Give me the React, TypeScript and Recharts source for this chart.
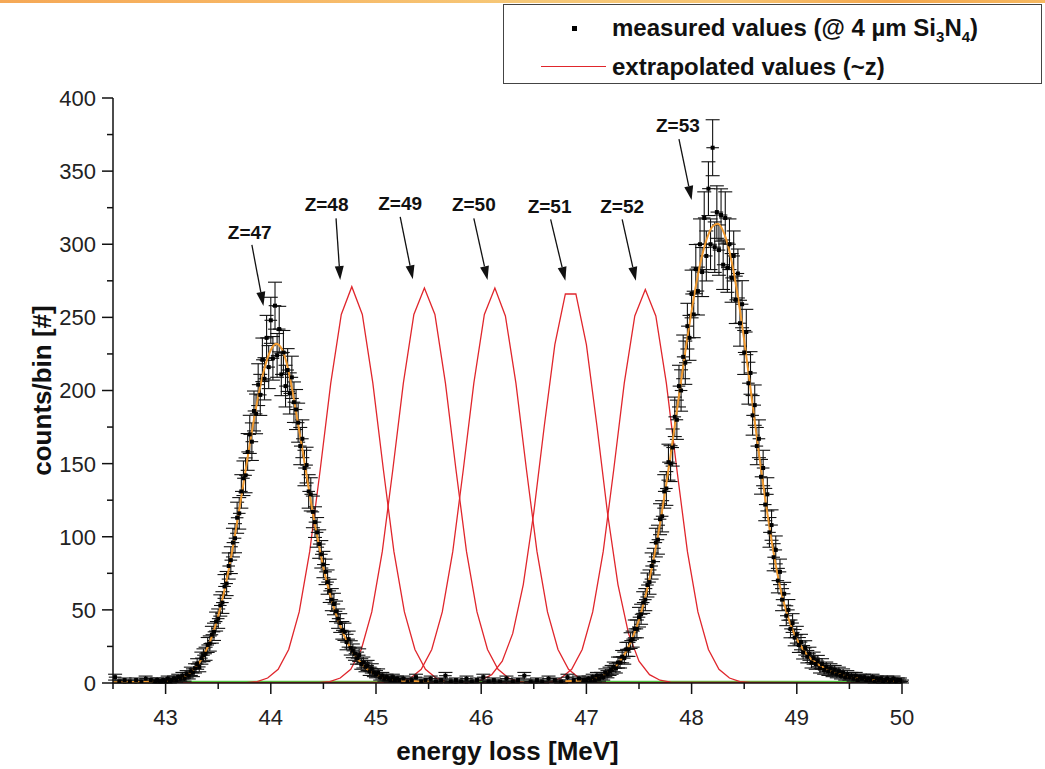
import React from "react";
import { ComposedChart, Line, Scatter, ErrorBar, XAxis, YAxis, ReferenceLine, ReferenceDot } from "recharts";

const FONT = '"Liberation Sans", Arial, Helvetica, sans-serif';

// measured spectrum (0.02 MeV bins)
const binStep = 0.02;
const binHalfWidth = 0.06;
const peak47Start = 42.9;
const peak47Counts = [
  1, 2, 1, 1, 2, 1, 3, 1, 2, 3,
  2, 4, 3, 5, 3, 6, 5, 8, 7, 10,
  13, 11, 17, 19, 20, 26, 27, 33, 35, 42,
  44, 53, 55, 66, 68, 80, 84, 96, 99, 113,
  116, 131, 140, 142, 158, 170, 165, 186, 184, 204,
  197, 221, 208, 236, 216, 248, 222, 258, 224, 242,
  211, 226, 203, 214, 198, 209, 192, 187, 178, 162,
  167, 147, 149, 131, 129, 117, 110, 103, 95, 88,
  81, 76, 69, 63, 57, 54, 49, 44, 41, 36,
  35, 28, 30, 24, 22, 20, 17, 19, 13, 14,
  11, 12, 8, 10, 7, 6, 7, 4, 5, 3,
  4, 3, 2, 4, 2, 3,
];
const peak53Start = 47.0;
const peak53Counts = [
  2, 3, 2, 4, 2, 5, 3, 5, 4, 7,
  6, 8, 9, 11, 10, 14, 14, 18, 17, 23,
  23, 29, 30, 37, 37, 45, 47, 55, 57, 67,
  69, 80, 83, 96, 98, 112, 114, 131, 133, 151,
  150, 161, 182, 180, 203, 200, 223, 219, 244, 236,
  266, 252, 283, 268, 300, 281, 318, 292, 338, 300,
  366, 298, 322, 296, 320, 286, 318, 284, 300, 277,
  292, 262, 280, 246, 259, 226, 240, 205, 212, 183,
  190, 162, 167, 141, 147, 122, 129, 103, 108, 86,
  91, 70, 76, 57, 61, 46, 50, 37, 41, 31,
  33, 26, 28, 21, 24, 18, 20, 14, 17, 13,
  15, 10, 13, 9, 11, 8, 10, 7, 9, 6,
  8, 5, 7, 4, 6, 4, 5, 3, 5, 2,
  4, 3, 4, 2, 3, 2, 4, 1, 3, 2,
  3, 1, 2, 3, 1, 2, 3, 1, 2, 2,
  1,
];
// sparse low-count bins outside the peaks
const lowX = [
  42.52, 42.56, 42.61, 42.66, 42.72, 42.77, 42.81, 42.86,
  45.22, 45.26, 45.3, 45.34, 45.38, 45.43, 45.47, 45.52, 45.57, 45.62, 45.66, 45.71,
  45.76, 45.81, 45.86, 45.91, 45.96, 46.02, 46.07, 46.12, 46.18, 46.24, 46.3, 46.35,
  46.41, 46.47, 46.53, 46.58, 46.64, 46.7, 46.76, 46.82, 46.88, 46.93, 46.97,
];
const lowCounts = [
  4, 1, 2, 1, 2, 1, 3, 2,
  2, 3, 1, 2, 4, 1, 2, 3, 1, 2, 5, 1,
  2, 1, 3, 1, 2, 4, 1, 2, 1, 3, 1, 2,
  5, 1, 2, 1, 3, 2, 1, 4, 2, 3, 2,
];

// gaussian fits (orange)
const fitStep = 0.05;
const fit47Start = 42.5;
const fit47 = [
  0.5, 0.5, 0.5, 0.6, 0.6, 0.7, 0.8, 0.9, 1.0, 1.1,
  1.2, 1.6, 2.4, 3.6, 5.4, 8.1, 12, 17.3, 24.5, 33.9,
  45.8, 60.4, 77.6, 97.2, 118.6, 141, 163.2, 184.4, 203, 217.8,
  227.7, 232, 229, 219, 202, 181, 160, 137.5, 116, 97,
  79, 64, 51.5, 41, 32, 25, 19, 14.3, 10.5, 7.8,
  5.7, 4.2, 3.1, 2.4, 1.9, 1.6, 1.4, 1.2, 1.1, 1.0, 1.0,
];
const fit53Start = 46.8;
const fit53 = [
  1.2, 1.3, 1.5, 1.7,
  2.0, 2.6, 3.5, 4.9, 6.9, 9.6, 13.3, 18.2, 24.7, 33,
  43.3, 56, 71.3, 89, 109, 131.5, 155.5, 181, 206.5, 231.5,
  254.5, 275.3, 292.3, 304.8, 312.2, 314, 309, 298, 281, 259.5,
  234.4, 207, 179, 151.6, 125.7, 101.8, 80.8, 62.7, 49, 38,
  30, 24, 19, 15.5, 12.8, 10.6, 8.8, 7.3, 6.1, 5.1,
  4.3, 3.6, 3.1, 2.7, 2.3, 2.0, 1.8, 1.6, 1.5, 1.3,
  1.2,
];

// extrapolated curves (~z), Z=48..52, sampled every 0.1 MeV
const redStep = 0.1;
const redStarts = [43.77, 44.46, 45.13, 45.9, 46.56];
const redValues = [
  [0.3, 1.0, 3.4, 9.4, 22.9, 48.6, 90, 146, 205, 252, 271, 252, 205, 146, 90, 48.6, 22.9, 9.4, 3.4, 1.0, 0.3],
  [0.3, 1.0, 3.4, 9.4, 22.9, 48.6, 90, 146, 205, 252, 270, 252, 205, 146, 90, 48.6, 22.9, 9.4, 3.4, 1.0, 0.3],
  [0.3, 1.0, 3.4, 9.4, 22.9, 48.6, 90, 146, 205, 252, 270, 251, 205, 146, 90, 48.6, 22.9, 9.4, 3.4, 1.0, 0.3],
  [0.55, 1.9, 5.7, 14.9, 33.9, 67.3, 116.6, 175.9, 231.4, 266, 266, 231.4, 175.9, 116.6, 67.3, 33.9, 14.9, 5.7, 1.9, 0.55],
  [0.3, 1.0, 3.4, 9.4, 22.9, 48.6, 90, 146, 205, 251, 269, 251, 205, 146, 90, 48.6, 22.9, 9.4, 3.4, 1.0, 0.3],
];
const xRange = [42.5, 50];

// annotations
const annLabels = ["Z=47", "Z=48", "Z=49", "Z=50", "Z=51", "Z=52", "Z=53"];
const annTextX = [43.8, 44.53, 45.23, 45.93, 46.65, 47.34, 47.87];
const annTextY = [308, 327, 328, 327, 326, 326, 381];
const arrowFromX = [43.82, 44.62, 45.23, 45.93, 46.66, 47.34, 47.88];
const arrowFromY = [299.5, 317.7, 318.8, 317.7, 317, 317, 371.8];
const arrowToX = [43.93, 44.66, 45.35, 46.06, 46.8, 47.47, 48.0];
const arrowToY = [257.8, 275.5, 276, 275.5, 275, 275, 330.3];

const xTicks = [42.5, 43, 43.5, 44, 44.5, 45, 45.5, 46, 46.5, 47, 47.5, 48, 48.5, 49, 49.5, 50];
const yTicks = [0, 25, 50, 75, 100, 125, 150, 175, 200, 225, 250, 275, 300, 325, 350, 375, 400];

const r2 = (v: number) => Math.round(v * 1000) / 1000;
const series = (start: number, step: number, values: number[]) =>
  values.map((y, i) => ({ x: r2(start + i * step), y }));

const measured = [
  ...series(peak47Start, binStep, peak47Counts),
  ...series(peak53Start, binStep, peak53Counts),
  ...lowX.map((x, i) => ({ x, y: lowCounts[i] })),
]
  .filter((d) => d.y > 0)
  .map((d) => ({ ...d, err: Math.sqrt(d.y), xerr: binHalfWidth }));

const fitSeries = [series(fit47Start, fitStep, fit47), series(fit53Start, fitStep, fit53)];
const redSeries = redValues.map((vals, k) => [
  { x: xRange[0], y: 0 },
  ...series(redStarts[k], redStep, vals),
  { x: xRange[1], y: 0 },
]);
const baseline = xRange.map((x) => ({ x, y: 0.8 }));

const XTick = (props: any) => {
  const { x, y, payload } = props;
  const major = Number.isInteger(payload.value);
  return (
    <g>
      <line x1={x} y1={y} x2={x} y2={y + (major ? 11 : 6)} stroke="#111" strokeWidth={1.5} />
      {major && (
        <text x={x} y={y + 42} textAnchor="middle" fontSize={22} fontFamily={FONT} fill="#222">
          {payload.value}
        </text>
      )}
    </g>
  );
};

const YTick = (props: any) => {
  const { x, y, payload } = props;
  const major = payload.value % 50 === 0;
  return (
    <g>
      <line x1={x} y1={y} x2={x - (major ? 11 : 6)} y2={y} stroke="#111" strokeWidth={1.5} />
      {major && (
        <text x={x - 17} y={y} dy="0.36em" textAnchor="end" fontSize={22} fontFamily={FONT} fill="#222">
          {payload.value}
        </text>
      )}
    </g>
  );
};

const Arrow = (props: any) => {
  const { x1, y1, x2, y2 } = props;
  const ang = Math.atan2(y2 - y1, x2 - x1);
  const len = 14;
  const half = 4.5;
  const bx = x2 - len * Math.cos(ang);
  const by = y2 - len * Math.sin(ang);
  const px = -Math.sin(ang) * half;
  const py = Math.cos(ang) * half;
  return (
    <g>
      <line x1={x1} y1={y1} x2={bx} y2={by} stroke="#111" strokeWidth={1.3} />
      <polygon points={`${x2},${y2} ${bx + px},${by + py} ${bx - px},${by - py}`} fill="#111" />
    </g>
  );
};

export default function App() {
  return (
    <div style={{ position: "absolute", left: 0, top: 0, width: 1045, height: 769, background: "#fff" }}>
      <div
        style={{
          position: "absolute",
          left: 0,
          top: 0,
          width: 1045,
          height: 3,
          background: "linear-gradient(90deg, #f5a856 0%, #f7b664 25%, #f6c878 50%, #f7c472 70%, #f3a64c 85%, #f6b860 100%)",
        }}
      />
      <ComposedChart width={1045} height={769} margin={{ top: 98, right: 143, left: 0, bottom: 0 }}>
        <XAxis
          type="number"
          dataKey="x"
          domain={[42.5, 50]}
          ticks={xTicks}
          interval={0}
          tickSize={0}
          tickMargin={0}
          tick={<XTick />}
          axisLine={{ stroke: "#111", strokeWidth: 1.5 }}
          height={86}
          allowDataOverflow
          label={{
            value: "energy loss [MeV]",
            position: "insideBottom",
            offset: 9,
            style: { fontFamily: FONT, fontWeight: "bold", fontSize: 26, fill: "#111" },
          }}
        />
        <YAxis
          type="number"
          domain={[0, 400]}
          ticks={yTicks}
          interval={0}
          tickSize={0}
          tickMargin={0}
          tick={<YTick />}
          axisLine={{ stroke: "#111", strokeWidth: 1.5 }}
          width={113}
          allowDataOverflow
          label={(p: any) => {
            const vb = p.viewBox;
            const cx = 42;
            const cy = vb.y + vb.height / 2;
            return (
              <text
                x={cx}
                y={cy}
                transform={`rotate(-90 ${cx} ${cy})`}
                textAnchor="middle"
                dominantBaseline="central"
                fontFamily={FONT}
                fontWeight="bold"
                fontSize={26}
                fill="#111"
              >
                counts/bin [#]
              </text>
            );
          }}
        />
        <Line data={baseline} dataKey="y" stroke="#4fc43c" strokeWidth={2} dot={false} isAnimationActive={false} />
        {redSeries.map((d, k) => (
          <Line
            key={k}
            data={d}
            dataKey="y"
            type="linear"
            stroke="#e0262c"
            strokeWidth={1.3}
            dot={false}
            isAnimationActive={false}
          />
        ))}
        <Scatter
          data={measured}
          dataKey="y"
          isAnimationActive={false}
          shape={(p: any) => <rect x={p.cx - 2} y={p.cy - 2} width={4} height={4} fill="#000" />}
        >
          <ErrorBar dataKey="err" direction="y" width={7} stroke="#111" strokeWidth={1.1} isAnimationActive={false} />
          <ErrorBar dataKey="xerr" direction="x" width={0} stroke="#111" strokeWidth={1.1} isAnimationActive={false} />
        </Scatter>
        {fitSeries.map((d, k) => (
          <Line
            key={`f${k}`}
            data={d}
            dataKey="y"
            type="monotone"
            stroke="#f29a2e"
            strokeWidth={2}
            dot={false}
            isAnimationActive={false}
          />
        ))}
        {annLabels.map((lab, i) => (
          <ReferenceLine
            key={`a${i}`}
            segment={[
              { x: arrowFromX[i], y: arrowFromY[i] },
              { x: arrowToX[i], y: arrowToY[i] },
            ]}
            shape={(p: any) => <Arrow {...p} />}
          />
        ))}
        {annLabels.map((lab, i) => (
          <ReferenceDot
            key={`t${i}`}
            x={annTextX[i]}
            y={annTextY[i]}
            r={0}
            shape={(p: any) => (
              <text
                x={p.cx}
                y={p.cy}
                textAnchor="middle"
                dominantBaseline="central"
                fontFamily={FONT}
                fontWeight="bold"
                fontSize={19}
                fill="#111"
              >
                {lab}
              </text>
            )}
          />
        ))}
      </ComposedChart>
      <div
        style={{
          position: "absolute",
          left: 503,
          top: 4,
          width: 537,
          height: 78,
          border: "1px solid #444",
          background: "#fff",
          fontFamily: FONT,
          fontWeight: "bold",
          fontSize: 24,
          color: "#111",
        }}
      >
        <div style={{ position: "absolute", left: 68, top: 21, width: 5, height: 5, background: "#000" }} />
        <div style={{ position: "absolute", left: 108, top: 8, height: 30, lineHeight: "30px", whiteSpace: "nowrap" }}>
          measured values (@ 4 µm Si<sub style={{ fontSize: 15 }}>3</sub>N<sub style={{ fontSize: 15 }}>4</sub>)
        </div>
        <div style={{ position: "absolute", left: 37, top: 61, width: 65, height: 0, borderTop: "1.3px solid #e0262c" }} />
        <div style={{ position: "absolute", left: 108, top: 47, height: 30, lineHeight: "30px", whiteSpace: "nowrap" }}>
          extrapolated values (~z)
        </div>
      </div>
    </div>
  );
}
